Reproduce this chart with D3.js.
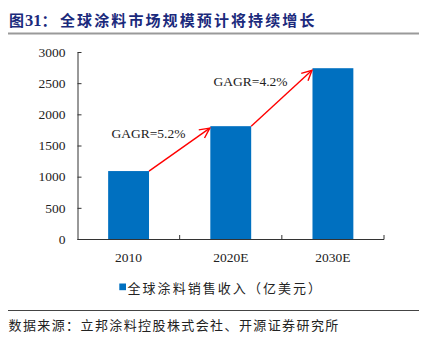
<!DOCTYPE html>
<html><head><meta charset="utf-8">
<script src="https://cdn.jsdelivr.net/npm/d3@7"></script>
<style>
body{margin:0;background:#fff;}
svg{display:block;}
</style></head>
<body>
<svg id="c" width="422" height="340"></svg>
<script>
const categories = ["2010", "2020E", "2030E"];
const values = [1090, 1810, 2740];
const yTicks = [0, 500, 1000, 1500, 2000, 2500, 3000];
const growthLabels = ["GAGR=5.2%", "GAGR=4.2%"];
const seriesName = "全球涂料销售收入（亿美元）";
const titleNum = "31";
const titleText = "全球涂料市场规模预计将持续增长";
const sourceText = "数据来源：立邦涂料控股株式会社、开源证券研究所";

const svg = d3.select("#c");
const serif = "'Liberation Serif','Times New Roman',serif";
const cjk = "'Noto Sans CJK SC','Noto Sans CJK JP',sans-serif";

// Title
const t = svg.append("text").attr("x", 9).attr("y", 25.5).attr("fill", "#1b2a7c").attr("font-weight", "bold");
t.append("tspan").attr("font-family", cjk).attr("font-size", 15).text("图");
t.append("tspan").attr("font-family", serif).attr("font-size", 16.5).attr("dx", 1).text(titleNum);
t.append("tspan").attr("font-family", cjk).attr("font-size", 15).text("：");
svg.append("text").attr("x", 60).attr("y", 25.5).attr("fill", "#1b2a7c").attr("font-weight", "bold")
  .attr("font-family", cjk).attr("font-size", 15).attr("letter-spacing", 2.1).text(titleText);
svg.append("line").attr("x1", 8).attr("x2", 419).attr("y1", 33.5).attr("y2", 33.5)
  .attr("stroke", "#9a9a9a").attr("stroke-width", 2);

// Scales
const x = d3.scaleBand().domain(categories).range([77.5, 384]).paddingInner(0.6).paddingOuter(0.3);
const y = d3.scaleLinear().domain([0, 3000]).range([239, 52]);

// Bars
svg.append("g").selectAll("rect").data(values).join("rect")
  .attr("x", (d, i) => x(categories[i]))
  .attr("y", d => y(d))
  .attr("width", x.bandwidth())
  .attr("height", d => y(0) - y(d))
  .attr("fill", "#0070c0");

// Y axis
const ya = svg.append("g").attr("transform", "translate(77.5,0)")
  .call(d3.axisLeft(y).tickValues(yTicks).tickSizeInner(-4).tickSizeOuter(0).tickPadding(12).tickFormat(d3.format("d")));
ya.select(".domain").attr("stroke", "#333");
ya.selectAll(".tick line").attr("stroke", "#333");
ya.selectAll("text").attr("font-family", serif).attr("font-size", 13.5).attr("fill", "#222");

// X axis
const xa = svg.append("g").attr("transform", "translate(0,239)")
  .call(d3.axisBottom(x).tickSize(0).tickPadding(13));
xa.select(".domain").attr("stroke", "#333").attr("d", "M77.5,0.5H384");
xa.selectAll("text").attr("font-family", serif).attr("font-size", 13.5).attr("fill", "#222");
const step = x.step();
xa.append("g").selectAll("line").data(categories).join("line")
  .attr("x1", d => x(d) + x.bandwidth() / 2 + step / 2)
  .attr("x2", d => x(d) + x.bandwidth() / 2 + step / 2)
  .attr("y1", 0.5).attr("y2", -4).attr("stroke", "#333");

// Arrows
const defs = svg.append("defs");
defs.append("marker").attr("id", "ah").attr("viewBox", "0 0 12 12").attr("refX", 11).attr("refY", 6)
  .attr("markerWidth", 12).attr("markerHeight", 12).attr("markerUnits", "userSpaceOnUse").attr("orient", "auto")
  .append("path").attr("d", "M1,1 L11,6 L1,11").attr("fill", "none").attr("stroke", "#ff0000").attr("stroke-width", 1.4);

growthLabels.forEach((lab, i) => {
  const x1 = x(categories[i]) + x.bandwidth(), y1 = y(values[i]);
  const x2 = x(categories[i + 1]) - 0.5, y2 = y(values[i + 1]) + 2;
  svg.append("line").attr("x1", x1).attr("y1", y1).attr("x2", x2).attr("y2", y2)
    .attr("stroke", "#ff0000").attr("stroke-width", 1.4).attr("marker-end", "url(#ah)");
  svg.append("text").attr("x", (x1 + x2) / 2 - 31).attr("y", (y1 + y2) / 2 - 16.5)
    .attr("text-anchor", "middle").attr("dominant-baseline", "central")
    .attr("font-family", serif).attr("font-size", 13.5).attr("fill", "#222").text(lab);
});

// Legend
svg.append("rect").attr("x", 119.3).attr("y", 283.5).attr("width", 6.7).attr("height", 6.7).attr("fill", "#0070c0");
svg.append("text").attr("x", 127.5).attr("y", 287.5).attr("dominant-baseline", "central")
  .attr("font-family", cjk).attr("font-size", 13).attr("letter-spacing", 2.05).attr("fill", "#222").text(seriesName);

// Source
svg.append("line").attr("x1", 8).attr("x2", 419).attr("y1", 310.5).attr("y2", 310.5).attr("stroke", "#444").attr("stroke-width", 1);
svg.append("text").attr("x", 8.5).attr("y", 324).attr("dominant-baseline", "central")
  .attr("font-family", cjk).attr("font-size", 13).attr("letter-spacing", 1.4).attr("fill", "#222").text(sourceText);
</script>
</body></html>
